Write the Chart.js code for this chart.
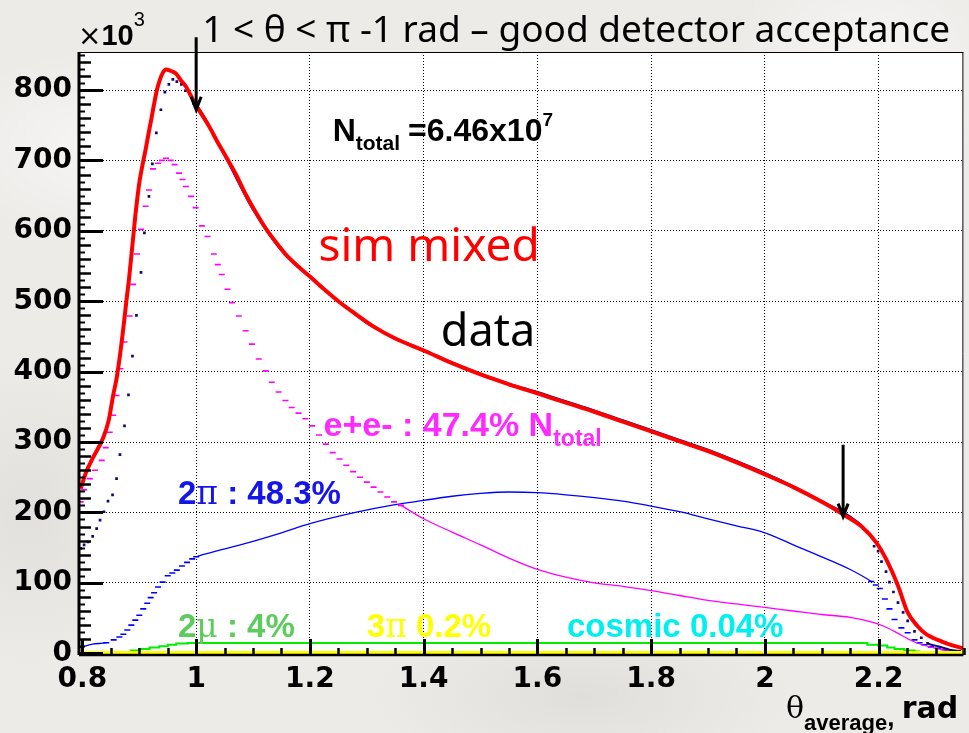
<!DOCTYPE html>
<html>
<head>
<meta charset="utf-8">
<script src="https://cdn.jsdelivr.net/npm/chart.js@4.4.0/dist/chart.umd.min.js"></script>
<style>
  html, body { margin: 0; padding: 0; }
  body {
    width: 969px; height: 733px; overflow: hidden;
    background-color: #edebe8;
    background-image:
      radial-gradient(ellipse 260px 140px at 12% 20%, rgba(255,255,255,0.55), rgba(255,255,255,0) 70%),
      radial-gradient(ellipse 300px 120px at 60% 95%, rgba(210,207,202,0.45), rgba(210,207,202,0) 70%),
      radial-gradient(ellipse 200px 160px at 90% 8%, rgba(255,255,255,0.5), rgba(255,255,255,0) 70%),
      radial-gradient(ellipse 180px 220px at 3% 70%, rgba(215,212,208,0.5), rgba(215,212,208,0) 70%);
  }
  #wrap { position: relative; width: 969px; height: 733px; }
</style>
</head>
<body>
<div id="wrap"><canvas id="chart" width="969" height="733"></canvas></div>
<script>
// counts are in units of 10^3 events, theta in rad

// data (dark blue markers)
const dataTheta = [0.797,0.803,0.810,0.818,0.825,0.831,0.838,0.845,0.853,0.860,
  0.866,0.874,0.881,0.888,0.895,0.903,0.909,0.917,0.923,0.930,
  0.938,0.945,0.952,0.959,0.966,0.974,0.981,0.988,0.995,1.002,
  1.05,1.10,1.15,1.20,1.25,1.30,1.35,1.40,1.45,1.50,
  1.55,1.60,1.65,1.70,1.75,1.80,1.85,1.90,1.95,2.00,
  2.05,2.10,2.15,2.18,
  2.192,2.199,2.205,2.213,2.219,2.226,2.234,2.243,2.251,2.263,2.275,2.286,2.304,2.325,2.345];
const dataCounts = [149,154,158,166,177,189,201,216,225,248,
  282,323,367,422,480,541,597,649,695,739,
  772,797,808,815,812,808,799,795,781,777,
  707,630,572,535,500,469,448,431,413,397,
  383,371,358,345,331,317,303,289,273,256,
  237,216,194,172,
  152,145,130,116,101,87,72,58,46,31,22,14,10,5,3];

// sim mixed (red)
const simTheta = [0.797,0.807,0.820,0.836,0.846,0.854,0.860,0.866,0.872,0.877,
  0.882,0.886,0.893,0.900,0.906,0.911,0.916,0.921,0.926,0.931,
  0.936,0.941,0.947,0.953,0.959,0.965,0.972,0.982,0.990,0.999,
  1.010,1.023,1.037,1.052,1.070,1.087,1.105,1.122,1.140,1.157,
  1.180,1.200,1.225,1.250,1.280,1.310,1.350,1.400,1.450,1.500,
  1.550,1.600,1.650,1.700,1.750,1.800,1.850,1.900,1.950,2.000,
  2.050,2.100,2.140,2.170,2.196,2.216,2.234,2.251,2.269,2.282,
  2.295,2.310,2.327,2.348];
const simCounts = [234,258,280,305,330,366,390,423,462,498,
  532,564,621,668,695,715,737,758,780,800,
  814,824,829,828,826,823,815,805,793,779,
  765,748,727,706,680,652,626,604,584,567,
  549,535,517,500,482,465,447,430,412,396,
  382,369,356,343,329,315,301,287,271,254,
  236,215,196,180,157,129,96,58,38,28,
  22,17,12,7];

// e+e- (magenta)
const eeTheta = [0.797,0.803,0.813,0.822,0.834,0.841,0.848,0.854,0.860,0.867,
  0.874,0.883,0.889,0.896,0.903,0.911,0.917,0.924,0.933,0.940,
  0.947,0.955,0.962,0.970,0.976,0.982,0.991,0.999,1.010,1.020,
  1.031,1.038,1.045,1.055,1.063,1.075,1.087,1.098,1.110,1.122,
  1.133,1.145,1.157,1.168,1.180,1.192,1.204,1.216,1.228,1.240,
  1.252,1.264,1.276,1.288,1.300,1.312,1.324,1.336,1.348,1.360,
  1.400,1.450,1.500,1.550,1.600,1.650,
  1.700,1.750,1.800,1.850,1.900,1.950,2.000,2.050,2.100,2.150,
  2.190,2.210,2.230,2.260,2.290,2.320,2.348];
const eeCounts = [215,232,248,260,274,292,314,338,366,404,
  442,479,524,567,602,635,658,688,696,700,
  703,700,694,682,673,663,649,633,607,592,
  567,552,538,517,498,479,458,439,418,401,
  385,371,359,349,341,333,323,310,297,285,
  276,267,258,250,243,236,229,222,215,210,
  191,172,154,135,119,108,
  100,95,89,82,75,70,65,60,55,51,
  44,38,30,17,9,4,2];

// 2pi (blue)
const pipiTheta = [0.796,0.818,0.842,0.855,0.865,0.872,0.879,0.886,0.893,0.900,
  0.907,0.914,0.920,0.926,0.933,0.941,0.950,0.958,0.966,0.975,
  0.984,0.993,1.000,
  1.040,1.100,1.150,1.200,1.280,1.350,1.400,1.450,1.500,1.550,
  1.600,1.650,1.700,1.750,1.800,1.850,1.900,1.950,2.000,2.050,
  2.100,2.150,2.187,
  2.195,2.202,2.211,2.219,2.228,2.240,2.251,2.263,2.272,2.280,
  2.292,2.304,2.316,2.330,2.345];
const pipiCounts = [8,13,15,19,23,27,33,40,47,54,
  63,71,79,86,94,101,110,114,118,124,
  129,134,137,
  146,159,171,184,200,211,217,223,227,229,
  228,225,221,216,209,201,191,181,171,154,
  137,119,102,
  97,92,77,63,48,36,29,19,15,12,
  9,7,5,3,2];

// 2mu (green)
const mumuTheta = [0.868,0.885,0.900,0.918,0.935,0.950,0.965,0.985,1.200,1.600,
  2.000,2.152,2.180,2.199,2.215,2.228,2.245,2.263,2.272];
const mumuCounts = [1,4,6,8,10,12,14,14.5,14.5,14.5,
  14.5,14.5,12,11,8,6,4,2.5,1];

// 3pi (yellow) and cosmic (cyan), both close to zero
const smallTheta = [0.80,1.20,1.60,2.00,2.35];
const threePiCounts = [0.5,0.5,0.5,0.5,0.5];
const cosmicCounts = [0.1,0.1,0.1,0.1,0.1];

const xTicks = [0.8,1.0,1.2,1.4,1.6,1.8,2.0,2.2];
const yTicks = [0,100,200,300,400,500,600,700,800];

const NAVY = '#0a0a78';
const CLEAR = 'rgba(0,0,0,0)';
const GAP = 0.0135;

function pts(xs, ys) {
  return xs.map((x, i) => ({ x: x, y: ys[i] }));
}

// points that sit in a run of single histogram bins get a marker, wider gaps get a line
function dense(xs, i) {
  const prev = i > 0 ? xs[i] - xs[i - 1] : 1;
  const next = i < xs.length - 1 ? xs[i + 1] - xs[i] : 1;
  return Math.min(prev, next) < GAP;
}

function histSet(label, xs, ys, color, order) {
  return {
    label: label,
    data: pts(xs, ys),
    showLine: true,
    cubicInterpolationMode: 'monotone',
    borderColor: color,
    borderWidth: 1.3,
    pointStyle: 'line',
    pointBorderColor: color,
    pointBorderWidth: 1.6,
    pointRadius: ctx => (dense(xs, ctx.dataIndex) ? 3 : 0),
    segment: {
      borderColor: ctx => (ctx.p1.parsed.x - ctx.p0.parsed.x < GAP ? CLEAR : color)
    },
    order: order
  };
}

function runs(ctx, x, y, parts) {
  ctx.textAlign = 'left';
  ctx.textBaseline = 'alphabetic';
  parts.forEach(p => {
    ctx.font = p.font;
    ctx.fillStyle = p.color;
    ctx.fillText(p.s, x, y + (p.dy || 0));
    x += ctx.measureText(p.s).width + (p.gap || 0);
  });
  return x;
}

function arrow(ctx, xs, ys, xv, topV, tipV) {
  const x = xs.getPixelForValue(xv);
  const y0 = ys.getPixelForValue(topV);
  const y1 = ys.getPixelForValue(tipV);
  ctx.strokeStyle = '#000';
  ctx.lineWidth = 3;
  ctx.beginPath();
  ctx.moveTo(x, y0);
  ctx.lineTo(x, y1);
  ctx.moveTo(x - 5, y1 - 13);
  ctx.lineTo(x, y1);
  ctx.lineTo(x + 5, y1 - 13);
  ctx.stroke();
}

const rootStyle = {
  id: 'rootStyle',
  beforeDraw(chart) {
    const { ctx, chartArea: a } = chart;
    ctx.save();
    ctx.fillStyle = '#ffffff';
    ctx.fillRect(a.left, a.top, a.right - a.left, a.bottom - a.top);
    ctx.restore();
  },
  afterDatasetsDraw(chart) {
    const { ctx, chartArea: a } = chart;
    const xs = chart.scales.x, ys = chart.scales.y;
    ctx.save();
    ctx.strokeStyle = '#000';
    // frame
    ctx.lineWidth = 1;
    ctx.beginPath();
    ctx.moveTo(a.left, a.top + 0.5);
    ctx.lineTo(a.right, a.top + 0.5);
    ctx.moveTo(a.right - 0.5, a.top);
    ctx.lineTo(a.right - 0.5, a.bottom);
    ctx.stroke();
    ctx.lineWidth = 3;
    ctx.beginPath();
    ctx.moveTo(a.left, a.bottom);
    ctx.lineTo(a.left, a.top);
    ctx.stroke();
    ctx.lineWidth = 2.5;
    ctx.beginPath();
    ctx.moveTo(a.left, a.bottom);
    ctx.lineTo(a.right, a.bottom);
    ctx.stroke();
    // y ticks: 100 / 20 / 10
    for (let k = 0; k <= 85; k++) {
      const v = k * 10;
      const py = Math.round(ys.getPixelForValue(v)) + 0.5;
      let len = 6, w = 2;
      if (k % 10 === 0) { len = 24; w = 3; } else if (k % 2 === 0) { len = 12; w = 2.5; }
      ctx.lineWidth = w;
      ctx.beginPath();
      ctx.moveTo(a.left, py);
      ctx.lineTo(a.left + len, py);
      ctx.stroke();
    }
    // x ticks: 0.2 / 0.05
    for (let k = 16; k <= 47; k++) {
      const v = k * 0.05;
      const px = Math.round(xs.getPixelForValue(v)) + 0.5;
      const major = k % 4 === 0;
      ctx.lineWidth = major ? 3 : 2.5;
      ctx.beginPath();
      ctx.moveTo(px, a.bottom);
      ctx.lineTo(px, a.bottom - (major ? 16 : 7));
      ctx.stroke();
    }
    ctx.restore();
  },
  afterDraw(chart) {
    const { ctx, chartArea: a } = chart;
    const xs = chart.scales.x, ys = chart.scales.y;
    const X = v => xs.getPixelForValue(v);
    const Y = v => ys.getPixelForValue(v);
    ctx.save();

    arrow(ctx, xs, ys, 1.0, 875, 772);
    arrow(ctx, xs, ys, 2.1375, 296, 194);

    // exponent of the y axis
    runs(ctx, a.left - 1, 45, [
      { s: '\u00d7', font: '28px "DejaVu Sans"', color: '#000' },
      { s: '10', font: 'bold 29px "Liberation Sans"', color: '#000' },
      { s: '3', font: '20px "Liberation Sans"', color: '#000', dy: -19 }
    ]);

    // title
    runs(ctx, X(1.0) + 6, 42, [
      { s: '1 < \u03b8 < \u03c0 -1 rad \u2013 good detector acceptance', font: '37px "Noto Sans"', color: '#000' }
    ]);

    // N total
    runs(ctx, X(1.24), Y(728), [
      { s: 'N', font: 'bold 32px "Liberation Sans"', color: '#000' },
      { s: 'total', font: 'bold 21px "Liberation Sans"', color: '#000', dy: 9, gap: 8 },
      { s: '=6.46x10', font: 'bold 32px "Liberation Sans"', color: '#000' },
      { s: '7', font: 'bold 19px "Liberation Sans"', color: '#000', dy: -15 }
    ]);

    runs(ctx, X(1.215), Y(557), [{ s: 'sim mixed', font: '46px "Noto Sans"', color: '#ff0000' }]);
    runs(ctx, X(1.43), Y(436), [{ s: 'data', font: '45px "Noto Sans"', color: '#000' }]);

    runs(ctx, X(1.224), Y(308), [
      { s: 'e+e- : 47.4% N', font: 'bold 34px "Liberation Sans"', color: '#ff2aff' },
      { s: 'total', font: 'bold 23px "Liberation Sans"', color: '#ff2aff', dy: 10 }
    ]);
    runs(ctx, X(0.968), Y(212), [
      { s: '2', font: 'bold 33px "Liberation Sans"', color: '#1515e8' },
      { s: '\u03c0', font: '33px "DejaVu Serif"', color: '#1515e8' },
      { s: ' : 48.3%', font: 'bold 33px "Liberation Sans"', color: '#1515e8' }
    ]);
    runs(ctx, X(0.968), Y(23), [
      { s: '2', font: 'bold 33px "Liberation Sans"', color: '#5ccc5c' },
      { s: '\u03bc', font: '33px "DejaVu Serif"', color: '#5ccc5c' },
      { s: ' : 4%', font: 'bold 33px "Liberation Sans"', color: '#5ccc5c' }
    ]);
    runs(ctx, X(1.30), Y(23), [
      { s: '3', font: 'bold 33px "Liberation Sans"', color: '#ffff00' },
      { s: '\u03c0', font: '33px "DejaVu Serif"', color: '#ffff00' },
      { s: ' 0.2%', font: 'bold 33px "Liberation Sans"', color: '#ffff00' }
    ]);
    runs(ctx, X(1.652), Y(23), [
      { s: 'cosmic 0.04%', font: 'bold 33px "Liberation Sans"', color: '#00f0f0' }
    ]);

    // x axis title
    runs(ctx, 786, 718, [
      { s: '\u03b8', font: '30px "DejaVu Serif"', color: '#000' },
      { s: 'average', font: 'bold 22px "Liberation Sans"', color: '#000', dy: 12 },
      { s: ', ', font: 'bold 26px "Liberation Sans"', color: '#000', dy: 8 },
      { s: 'rad', font: 'bold 30px "DejaVu Sans"', color: '#000' }
    ]);
    ctx.restore();
  }
};

new Chart(document.getElementById('chart'), {
  type: 'scatter',
  data: {
    datasets: [
      {
        label: 'sim mixed',
        data: pts(simTheta, simCounts),
        showLine: true,
        cubicInterpolationMode: 'monotone',
        borderColor: '#ff0000',
        borderWidth: 4,
        pointRadius: 0,
        order: 1
      },
      {
        label: 'data',
        data: pts(dataTheta, dataCounts),
        showLine: true,
        cubicInterpolationMode: 'monotone',
        borderColor: NAVY,
        borderWidth: 2,
        pointStyle: 'rect',
        pointRadius: ctx => (dense(dataTheta, ctx.dataIndex) ? 1.9 : 0),
        pointBackgroundColor: NAVY,
        pointBorderWidth: 0,
        segment: {
          borderColor: ctx => (ctx.p1.parsed.x - ctx.p0.parsed.x < GAP ? CLEAR : NAVY)
        },
        order: 2
      },
      histSet('e+e-', eeTheta, eeCounts, '#ff00ff', 3),
      histSet('2pi', pipiTheta, pipiCounts, '#0000ff', 4),
      {
        label: '2mu',
        data: pts(mumuTheta, mumuCounts),
        showLine: true,
        stepped: true,
        borderColor: '#00ee00',
        borderWidth: 2,
        pointRadius: 0,
        order: 5
      },
      {
        label: 'cosmic',
        data: pts(smallTheta, cosmicCounts),
        showLine: true,
        borderColor: '#00ffff',
        borderWidth: 2,
        pointRadius: 0,
        order: 6
      },
      {
        label: '3pi',
        data: pts(smallTheta, threePiCounts),
        showLine: true,
        borderColor: '#ffff00',
        borderWidth: 4,
        pointRadius: 0,
        order: 0
      }
    ]
  },
  options: {
    responsive: false,
    animation: false,
    events: [],
    layout: { padding: { top: 52, right: 1, left: 0, bottom: 0 } },
    plugins: { legend: { display: false }, tooltip: { enabled: false } },
    scales: {
      x: {
        type: 'linear',
        min: 0.794,
        max: 2.349,
        afterBuildTicks: s => { s.ticks = xTicks.map(v => ({ value: v })); },
        afterFit: s => { s.height = 78; },
        grid: {
          drawTicks: false,
          lineWidth: 1,
          color: c => (c.tick && Math.abs(c.tick.value - 0.8) < 1e-6 ? CLEAR : '#000')
        },
        border: { display: false, dash: [1, 2] },
        ticks: {
          padding: 8,
          color: '#000',
          font: { family: 'DejaVu Sans', weight: 'bold', size: 28 },
          callback: v => String(+v.toFixed(1))
        }
      },
      y: {
        type: 'linear',
        min: -2.5,
        max: 854,
        afterBuildTicks: s => { s.ticks = yTicks.map(v => ({ value: v })); },
        afterFit: s => { s.width = 79; },
        grid: {
          drawTicks: false,
          lineWidth: 1,
          color: c => (c.tick && c.tick.value === 0 ? CLEAR : '#000')
        },
        border: { display: false, dash: [1, 2] },
        ticks: {
          padding: 7,
          color: '#000',
          font: { family: 'DejaVu Sans', weight: 'bold', size: 28 },
          callback: v => String(v)
        }
      }
    }
  },
  plugins: [rootStyle]
});
</script>
</body>
</html>
